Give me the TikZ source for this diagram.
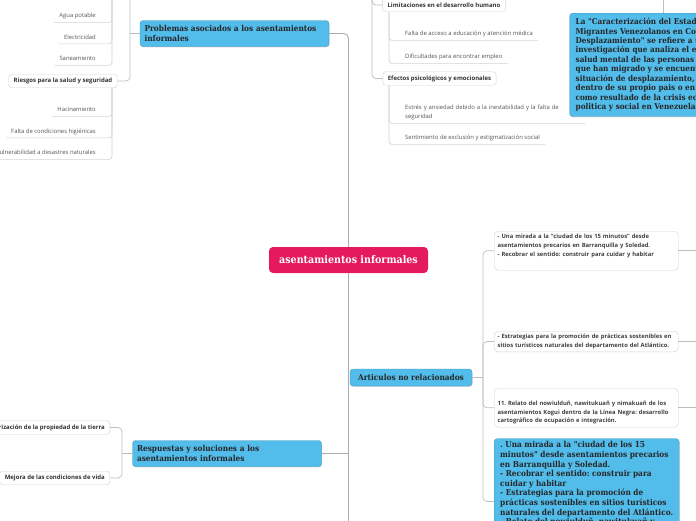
\documentclass[tikz,border=0pt]{standalone}
\usepackage{fontspec}
\setmainfont{Open Sans}
\newfontfamily\slab[FakeStretch=0.9]{DejaVu Serif}
\usepackage{xcolor}
\usepackage{tikz}
\usetikzlibrary{positioning,shadows}
\definecolor{rootpink}{HTML}{E5195E}
\definecolor{topicblue}{HTML}{52BCEB}
\definecolor{linegray}{HTML}{D2D2D2}
\definecolor{branchgray}{HTML}{BDBDBD}
\definecolor{spinegray}{HTML}{ABABAB}
\definecolor{leafgray}{HTML}{555555}
\frenchspacing

\begin{document}
\begin{tikzpicture}[x=1pt,y=-1pt,
  every node/.style={inner sep=0pt,text=leafgray,font=\fontsize{5.9}{9}\selectfont},
  rootnode/.style={fill=rootpink,rounded corners=4pt,minimum width=159pt,minimum height=26pt,
    text=white,font=\slab\bfseries\fontsize{10.6}{12}\selectfont},
  topic/.style={fill=topicblue,draw=topicblue!80!black,line width=0.3pt,rounded corners=3pt,
    align=left,text=black!85,font=\slab\bfseries\fontsize{8.2}{10}\selectfont,
    drop shadow={shadow xshift=0.5pt,shadow yshift=-0.9pt,opacity=0.3}},
  subtopic/.style={draw=linegray,fill=white,rounded corners=3pt,inner xsep=5pt,
    minimum height=13.5pt,text=black!80,font=\bfseries\fontsize{6}{8}\selectfont},
  leaf/.style={inner xsep=5pt,inner ysep=3.2pt,align=left},
  oneleaf/.style={leaf,text height=4.5pt,text depth=1.4pt},
  artbox/.style={draw=linegray,fill=white,rounded corners=4pt,align=left,text width=177pt,
    inner xsep=3.5pt,inner ysep=3pt,text=black!75,font=\bfseries\fontsize{5.85}{8.8}\selectfont},
  branch/.style={draw=branchgray,line width=0.7pt,rounded corners=4pt},
  link/.style={draw=linegray,line width=0.7pt,rounded corners=3pt},
  spine/.style={draw=spinegray,line width=0.9pt,rounded corners=5pt}]
  \useasboundingbox (0,0) rectangle (696,520);
  \clip (0,0) rectangle (696,520);

  % ends of lines that run off the page
  \coordinate (topL) at (130,-6);
  \coordinate (topB) at (112,-6);
  \coordinate (topA) at (372,-6);
  \coordinate (topC) at (663,-6);
  \coordinate (bottomend) at (348.5,526);
  \coordinate (rightend) at (706,0);

  % centre and main topics
  \node[rootnode] (root) at (348.5,260) {asentamientos informales};
  \node[topic,text width=180pt,inner xsep=4.5pt,minimum height=26pt] (prob) at (234.5,33.5)
    {Problemas asociados a los asentamientos\\informales};
  \node[topic,text width=180pt,inner xsep=4.5pt,minimum height=26pt] (resp) at (227,453.5)
    {Respuestas y soluciones a los\\asentamientos informales};
  \node[topic,inner xsep=6pt,minimum width=122pt,minimum height=17pt] (art) at (411,377.5)
    {Articulos no relacionados};
  \node[topic,anchor=north west,inner xsep=6pt,inner ysep=5pt,
    font=\slab\bfseries\fontsize{8.1}{9.45}\selectfont] (carac) at (569.5,13)
    {La "Caracterización del Estado\\Migrantes Venezolanos en Colombia\\Desplazamiento" se refiere a una\\
     investigación que analiza el estado\\salud mental de las personas\\que han migrado y se encuentran\\
     situación de desplazamiento,\\dentro de su propio pais o en\\como resultado de la crisis económica,\\
     politica y social en Venezuela.};
  \node[topic,anchor=north west,minimum width=185pt,inner ysep=3pt,
    font=\slab\bfseries\fontsize{8.2}{9.6}\selectfont] (summ) at (494,438.5)
    {. Una mirada a la "ciudad de los 15\\minutos" desde asentamientos precarios\\en Barranquilla y Soledad.\\
     - Recobrar el sentido: construir para\\cuidar y habitar\\- Estrategias para la promoción de\\
     prácticas sostenibles en sitios turísticos\\naturales del departamento del Atlántico.\\
     - Relato del nowiulduñ, nawitukuañ y};

  \draw[spine] (prob.east) -| (root.north);
  \draw[spine] (root.south) -- (bottomend);
  \draw[spine] (resp.east) -- (resp.east -| root.south);
  \draw[branch] (topC) -- (topC |- carac.north);

  % left: Problemas
  \node[subtopic] (rsg) at (63,81) {Riesgos para la salud y seguridad};
  \draw[branch] (topL) |- (rsg.east);
  \draw[branch] (prob.west) -- (prob.west -| topL);
  \coordinate (rsgline) at (112,88);
  \foreach \name/\y/\txt in {agua/16/Agua potable, elec/37.5/Electricidad, sane/59/Saneamiento}{
    \node[oneleaf,anchor=east] (\name) at (101,\y) {\txt};
    \draw[link] (\name.south west) -| (topB);
  }
  \foreach \name/\y/\txt in {hac/110/Hacinamiento, falt/131.5/Falta de condiciones higiénicas,
      vuln/153/Vulnerabilidad a desastres naturales}{
    \node[oneleaf,anchor=east] (\name) at (101,\y) {\txt};
    \draw[link] (\name.south west) -| (rsgline);
  }

  % top right
  \node[subtopic] (lim) at (444,5) {Limitaciones en el desarrollo humano};
  \node[subtopic] (efe) at (439.5,78.5) {Efectos psicológicos y emocionales};
  \draw[branch] (topA) |- (lim.west);
  \draw[branch] (topA) |- (efe.west);
  \coordinate (limline) at (389,12);
  \coordinate (efeline) at (389,85.5);
  \foreach \name/\y/\txt in {acce/34/Falta de acceso a educación y atención médica,
      difi/57/Dificultades para encontrar empleo}{
    \node[oneleaf,anchor=west] (\name) at (400,\y) {\txt};
    \draw[link] (limline) |- (\name.south east);
  }
  \node[leaf,anchor=west,text width=175pt] (estr) at (400,112.5)
    {Estrés y ansiedad debido a la inestabilidad y la falta de\\seguridad};
  \node[oneleaf,anchor=west] (sent) at (400,138) {Sentimiento de exclusión y estigmatización social};
  \foreach \name in {estr,sent}
    \draw[link] (efeline) |- (\name.south east);

  % bottom left: Respuestas
  \node[subtopic,anchor=east] (regu) at (110,427.5) {Regularización de la propiedad de la tierra};
  \node[subtopic,anchor=east] (mejo) at (110,478) {Mejora de las condiciones de vida};
  \coordinate (respx) at (122,453.5);
  \draw[branch] (resp.west) -- (respx);
  \draw[branch] (respx) |- (regu.east);
  \draw[branch] (respx) |- (mejo.east);

  % articles
  \node[artbox,anchor=north west] (art1) at (494,231)
    {- Una mirada a la "ciudad de los 15 minutos" desde\\asentamientos precarios en Barranquilla y Soledad.\\
     - Recobrar el sentido: construir para cuidar y habitar\rule[-11pt]{0pt}{11pt}};
  \node[artbox,anchor=north west] (art2) at (494,331)
    {- Estrategias para la promoción de prácticas sostenibles en\\sitios turísticos naturales del departamento del Atlántico.};
  \node[artbox,anchor=north west] (art3) at (494,388)
    {\rule{0pt}{14pt}11. Relato del nowiulduñ, nawitukuañ y nimakuañ de los\\
     asentamientos Kogui dentro de la Línea Negra: desarrollo\\cartográfico de ocupación e integración.};
  \coordinate (artx) at (483,377.5);
  \draw[branch] (art.east) -- (artx);
  \foreach \b in {art1,art2,art3}{
    \draw[branch] (artx) |- (\b.west);
    \draw[branch] (\b.east) -- (\b.east -| rightend);
  }
  \draw[branch] (artx) |- ([yshift=-63pt]summ.north west);
\end{tikzpicture}
\end{document}
